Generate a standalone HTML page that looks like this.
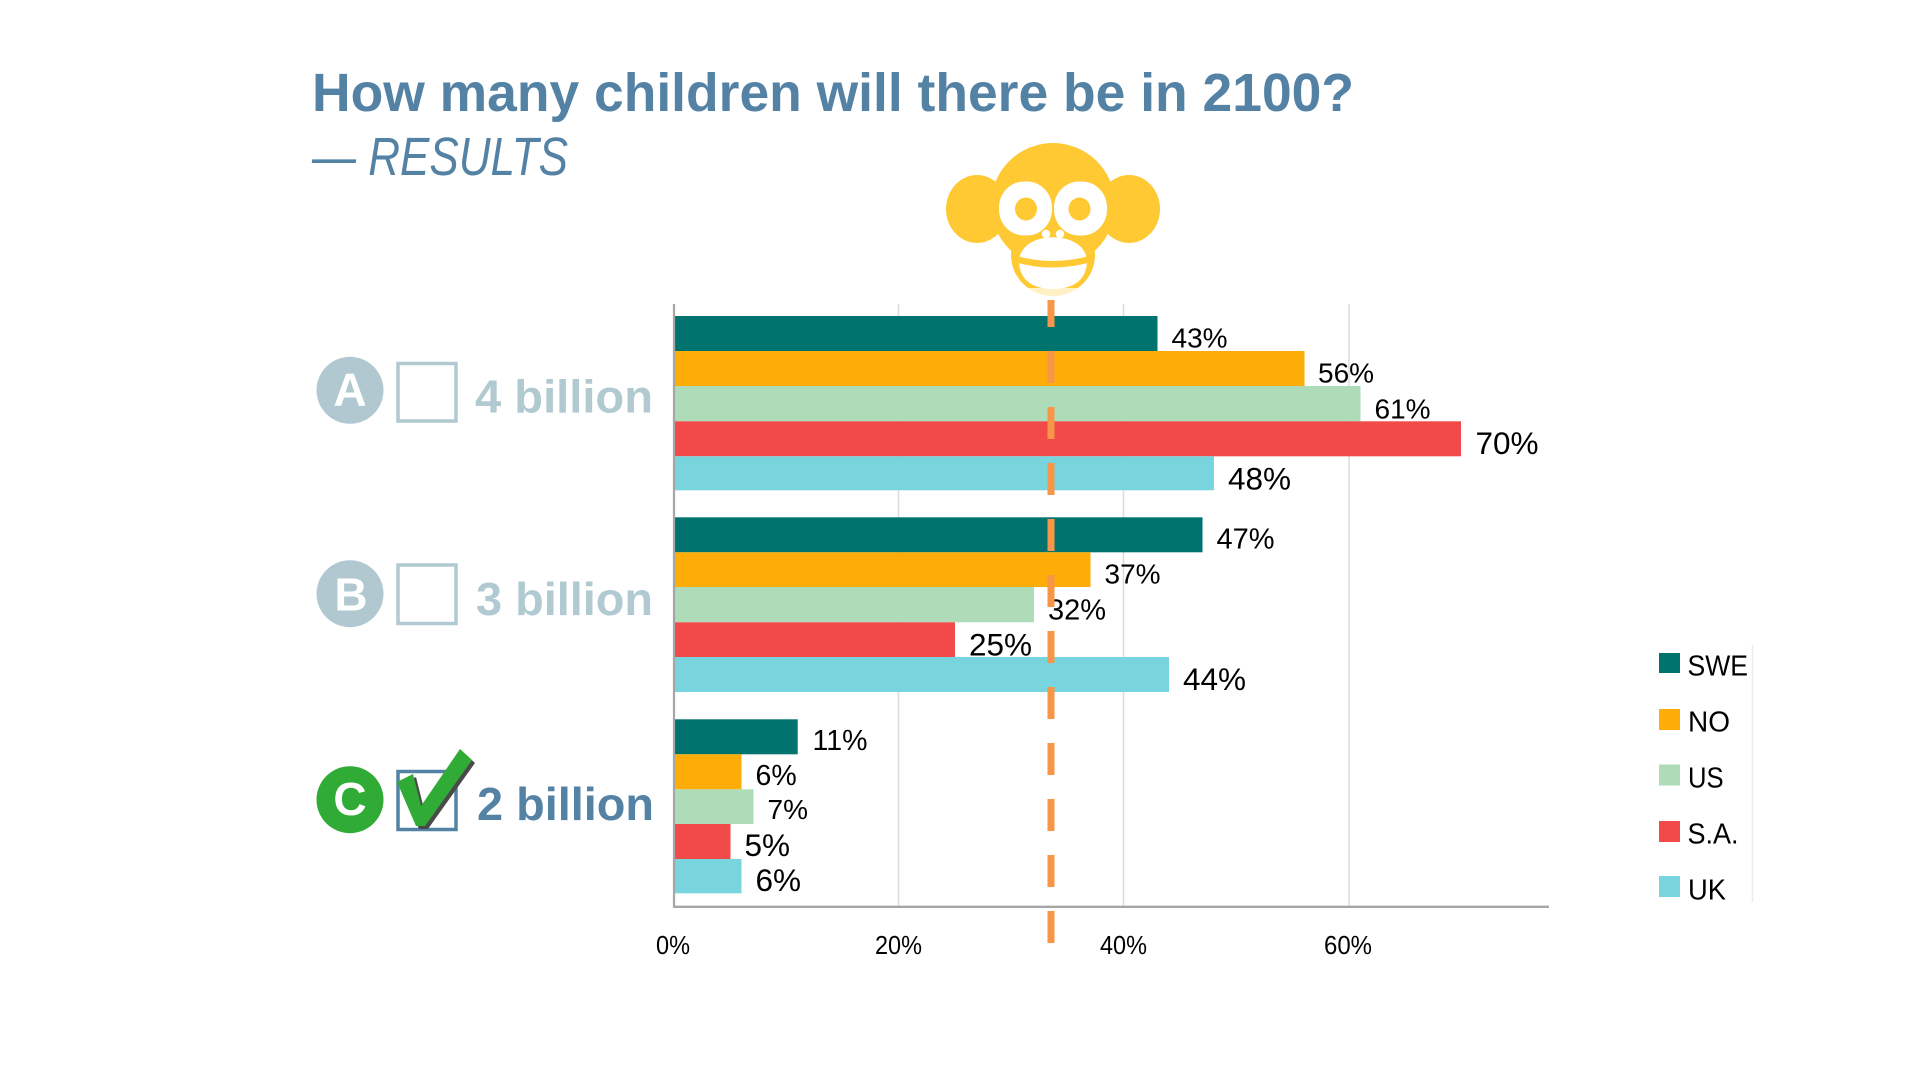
<!DOCTYPE html>
<html>
<head>
<meta charset="utf-8">
<style>
  html,body{margin:0;padding:0;background:#fff;}
  svg{display:block;}
  text{font-family:"Liberation Sans", sans-serif;}
</style>
</head>
<body>
<svg width="1920" height="1080" viewBox="0 0 1920 1080" xmlns="http://www.w3.org/2000/svg">
  <rect width="1920" height="1080" fill="#fff"/>

  <!-- Title -->
  <text x="312" y="111" font-size="54" font-weight="bold" fill="#5482a4" textLength="1042" lengthAdjust="spacingAndGlyphs">How many children will there be in 2100?</text>
  <text x="312" y="175" font-size="54" font-style="italic" fill="#5482a4" textLength="256" lengthAdjust="spacingAndGlyphs">— RESULTS</text>

  <!-- Gridlines -->
  <g stroke="#dcdcdc" stroke-width="1.5">
    <line x1="898.5" y1="304" x2="898.5" y2="906"/>
    <line x1="1123.5" y1="304" x2="1123.5" y2="906"/>
    <line x1="1349" y1="304" x2="1349" y2="906"/>
  </g>

  <!-- Bars -->
  <g>
    <!-- Group A -->
    <rect x="675" y="316" width="482.5" height="35" fill="#01736f"/>
    <rect x="675" y="351" width="629.5" height="35" fill="#feac07"/>
    <rect x="675" y="386" width="685.5" height="35.3" fill="#aedcb8"/>
    <rect x="675" y="421.3" width="786" height="35" fill="#f24949"/>
    <rect x="675" y="456.3" width="539" height="34" fill="#78d5de"/>
    <!-- Group B -->
    <rect x="675" y="517.3" width="527.5" height="35" fill="#01736f"/>
    <rect x="675" y="552.3" width="415.5" height="34.7" fill="#feac07"/>
    <rect x="675" y="587" width="359" height="35.3" fill="#aedcb8"/>
    <rect x="675" y="622.3" width="280" height="34.7" fill="#f24949"/>
    <rect x="675" y="657" width="494" height="35" fill="#78d5de"/>
    <!-- Group C -->
    <rect x="675" y="719.3" width="122.7" height="35" fill="#01736f"/>
    <rect x="675" y="754.3" width="66.5" height="35" fill="#feac07"/>
    <rect x="675" y="789.3" width="78.5" height="34.7" fill="#aedcb8"/>
    <rect x="675" y="824" width="55.5" height="35" fill="#f24949"/>
    <rect x="675" y="859" width="66.5" height="34.3" fill="#78d5de"/>
  </g>

  <!-- Axes -->
  <line x1="674" y1="304" x2="674" y2="907.5" stroke="#a6a6a6" stroke-width="2.2"/>
  <line x1="673" y1="906.8" x2="1549" y2="906.8" stroke="#a6a6a6" stroke-width="2.4"/>

  <!-- Data labels -->
  <g fill="#000">
    <text x="1171.5" y="347.3" font-size="28">43%</text>
    <text x="1318" y="382.7" font-size="28">56%</text>
    <text x="1374.5" y="418.3" font-size="28">61%</text>
    <text x="1475.5" y="454" font-size="31.5">70%</text>
    <text x="1228" y="489.3" font-size="31.5">48%</text>

    <text x="1216.5" y="548.7" font-size="29">47%</text>
    <text x="1104.5" y="583.3" font-size="28">37%</text>
    <text x="1048" y="619.3" font-size="29">32%</text>
    <text x="969" y="655.7" font-size="31.5">25%</text>
    <text x="1183" y="690" font-size="31.5">44%</text>

    <text x="812.5" y="750" font-size="28.5">11%</text>
    <text x="755.5" y="785" font-size="28.5">6%</text>
    <text x="767.5" y="819" font-size="28">7%</text>
    <text x="744.5" y="856" font-size="31.5">5%</text>
    <text x="755.5" y="891" font-size="31.5">6%</text>
  </g>

  <!-- Tick labels -->
  <g fill="#000" font-size="26" text-anchor="middle">
    <text x="673" y="954" textLength="34" lengthAdjust="spacingAndGlyphs">0%</text>
    <text x="898.5" y="954" textLength="47" lengthAdjust="spacingAndGlyphs">20%</text>
    <text x="1123.5" y="954" textLength="47" lengthAdjust="spacingAndGlyphs">40%</text>
    <text x="1348" y="954" textLength="48" lengthAdjust="spacingAndGlyphs">60%</text>
  </g>

  <!-- Orange dashed reference line -->
  <g fill="#f79646">
    <rect x="1047.5" y="300" width="7" height="27"/>
    <rect x="1047.5" y="351" width="7" height="32"/>
    <rect x="1047.5" y="407" width="7" height="32"/>
    <rect x="1047.5" y="463" width="7" height="32"/>
    <rect x="1047.5" y="519" width="7" height="32"/>
    <rect x="1047.5" y="575" width="7" height="32"/>
    <rect x="1047.5" y="631" width="7" height="32"/>
    <rect x="1047.5" y="687" width="7" height="32"/>
    <rect x="1047.5" y="743" width="7" height="32"/>
    <rect x="1047.5" y="799" width="7" height="32"/>
    <rect x="1047.5" y="855" width="7" height="32"/>
    <rect x="1047.5" y="911" width="7" height="32"/>
  </g>

  <!-- Monkey -->
  <g>
    <g fill="#fec933">
      <ellipse cx="977" cy="209" rx="31" ry="34"/>
      <ellipse cx="1129" cy="209" rx="31" ry="34"/>
      <circle cx="1053" cy="205" r="62"/>
      <ellipse cx="1053" cy="255" rx="42" ry="41"/>
    </g>
    <rect x="1005" y="288" width="96" height="12" fill="#fff" opacity="0.72"/>
    <g fill="#fff">
      <rect x="999" y="181.5" width="53" height="54" rx="25" ry="26"/>
      <rect x="1054" y="181.5" width="53" height="54" rx="25" ry="26"/>
    </g>
    <g fill="#fec933">
      <ellipse cx="1026" cy="209" rx="11" ry="11.5"/>
      <ellipse cx="1079.5" cy="209" rx="11" ry="11.5"/>
    </g>
    <circle cx="1046" cy="234" r="4.2" fill="#fff"/>
    <circle cx="1060" cy="234" r="4.2" fill="#fff"/>
    <path d="M1019,262 C1019,229 1087,229 1087,262 C1086,285 1066,289 1053,289 C1040,289 1020,285 1019,262 Z" fill="#fff"/>
    <path d="M1014,258.5 Q1053,270 1092,258.5" fill="none" stroke="#fec933" stroke-width="6.5"/>
  </g>

  <!-- Left answer labels -->
  <circle cx="350" cy="390.3" r="33.5" fill="#b1c8d0"/>
  <text x="350" y="405.5" font-size="46" font-weight="bold" fill="#fff" text-anchor="middle">A</text>
  <rect x="398" y="363.5" width="58" height="57.5" fill="none" stroke="#b1c9d1" stroke-width="3.5"/>
  <text x="475" y="412.7" font-size="46" font-weight="bold" fill="#b1c9d1" textLength="178" lengthAdjust="spacingAndGlyphs">4 billion</text>

  <circle cx="350" cy="593.7" r="33.5" fill="#b1c8d0"/>
  <text x="351" y="610.7" font-size="46" font-weight="bold" fill="#fff" text-anchor="middle">B</text>
  <rect x="398" y="565" width="58" height="58.5" fill="none" stroke="#b1c9d1" stroke-width="3.5"/>
  <text x="476" y="615" font-size="46" font-weight="bold" fill="#b1c9d1" textLength="177" lengthAdjust="spacingAndGlyphs">3 billion</text>

  <circle cx="350" cy="799.7" r="33.5" fill="#30ab36"/>
  <text x="350" y="815" font-size="46" font-weight="bold" fill="#fff" text-anchor="middle">C</text>
  <rect x="398" y="771.5" width="58" height="58" fill="none" stroke="#5482a4" stroke-width="3.5"/>
  <polygon points="400,785 416,777 424,809 463,752 475,763 428,829 419,829" fill="#4a4a4a"/>
  <polygon points="397,782 413,774 421,806 460,749 472,760 425,826 416,826" fill="#30ab36"/>
  <text x="477" y="820" font-size="46" font-weight="bold" fill="#5482a4" textLength="177" lengthAdjust="spacingAndGlyphs">2 billion</text>

  <!-- Legend -->
  <line x1="1752.5" y1="645" x2="1752.5" y2="902" stroke="#ececec" stroke-width="1.5"/>
  <g>
    <rect x="1659" y="653" width="21" height="20" fill="#01736f"/>
    <rect x="1659" y="709" width="21" height="21" fill="#feac07"/>
    <rect x="1659" y="764.5" width="21" height="21" fill="#aedcb8"/>
    <rect x="1659" y="821" width="21" height="21" fill="#f24949"/>
    <rect x="1659" y="876" width="21" height="21" fill="#78d5de"/>
  </g>
  <g fill="#000" font-size="29">
    <text x="1687.5" y="675.7" textLength="60.5" lengthAdjust="spacingAndGlyphs">SWE</text>
    <text x="1688" y="731.7" textLength="42" lengthAdjust="spacingAndGlyphs">NO</text>
    <text x="1688" y="787.3" textLength="35.6" lengthAdjust="spacingAndGlyphs">US</text>
    <text x="1687.5" y="843.3" textLength="51" lengthAdjust="spacingAndGlyphs">S.A.</text>
    <text x="1688" y="899.3" textLength="38" lengthAdjust="spacingAndGlyphs">UK</text>
  </g>
</svg>
</body>
</html>
